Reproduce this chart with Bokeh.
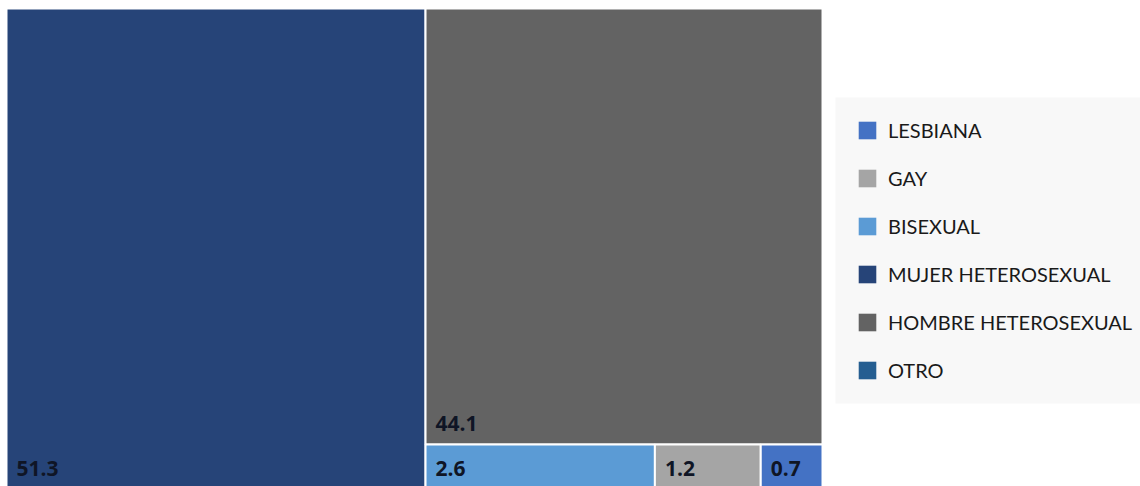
from bokeh.plotting import figure
from bokeh.models import Range1d, ColumnDataSource, Legend, LegendItem, BoxAnnotation
from bokeh.core.properties import value
from bokeh.embed import file_html
from bokeh.resources import INLINE

# ---- data ----
categories = ["LESBIANA", "GAY", "BISEXUAL", "MUJER HETEROSEXUAL", "HOMBRE HETEROSEXUAL", "OTRO"]
values = [0.7, 1.2, 2.6, 51.3, 44.1, 0.0]
colors = ["#4472C4", "#A5A5A5", "#5B9BD5", "#264478", "#636363", "#255E91"]

# ---- layout (treemap geometry in screen-pixel units, y downward) ----
W, H = 1140, 486
X0, Y0 = 6, 8
TW, TH = 816, 480.5

total = sum(values)
order = sorted(range(len(values)), key=lambda i: -values[i])
order = [i for i in order if values[i] > 0]

rects = {}
# largest value: full-height left column
i0 = order[0]
w0 = TW * values[i0] / total
rects[i0] = (X0, X0 + w0, Y0, Y0 + TH)
# rest: second value on top, the others in a bottom row
rest = order[1:]
rest_sum = sum(values[i] for i in rest)
i1 = rest[0]
h1 = TH * values[i1] / rest_sum
rects[i1] = (X0 + w0, X0 + TW, Y0, Y0 + h1)
row = rest[1:]
row_sum = sum(values[i] for i in row)
x = X0 + w0
for i in row:
    w = (TW - w0) * values[i] / row_sum
    rects[i] = (x, x + w, Y0 + h1, Y0 + TH)
    x += w

p = figure(width=W, height=H, output_backend="svg", toolbar_location=None,
           x_range=Range1d(0, W), y_range=Range1d(H, 0), min_border=0)
p.axis.visible = False
p.grid.visible = False
p.outline_line_color = None
p.background_fill_color = "white"

lbl_x, lbl_y, lbl_t = [], [], []
for i, (x0, x1, y0, y1) in rects.items():
    src = ColumnDataSource(dict(left=[x0], right=[x1], top=[y0], bottom=[y1]))
    p.quad(left="left", right="right", bottom="bottom", top="top", source=src,
           fill_color=colors[i], line_color="white", line_width=2)
    lbl_x.append(x0)
    lbl_y.append(y1)
    lbl_t.append(f"{values[i]:.1f}")

p.text(x=lbl_x, y=lbl_y, text=lbl_t, x_offset=10, y_offset=-21,
       text_font=value("Open Sans"), text_font_style="bold", text_font_size="21px",
       text_color="#0f1525", text_baseline="alphabetic", text_align="left")

# legend background panel
p.add_layout(BoxAnnotation(left=835, right=W, top=97, bottom=403,
                           fill_color="#f8f8f8", fill_alpha=1.0, line_color=None,
                           level="underlay"))

nan = float("nan")
items = []
for i, c in enumerate(categories):
    r = p.quad(left=[nan], right=[nan], bottom=[nan], top=[nan],
               fill_color=colors[i], line_color=None)
    items.append(LegendItem(label=c, renderers=[r]))

legend = Legend(items=items, location=(856, 104), orientation="vertical",
                glyph_width=22, glyph_height=22, label_standoff=10,
                label_height=20, spacing=24, padding=0, margin=0,
                label_text_font="Lato", label_text_font_size="20px",
                label_text_color="#1a1a1a",
                background_fill_alpha=0.0,
                border_line_color=None)
p.add_layout(legend, "center")

open("out.html", "w").write(file_html(p, INLINE))
